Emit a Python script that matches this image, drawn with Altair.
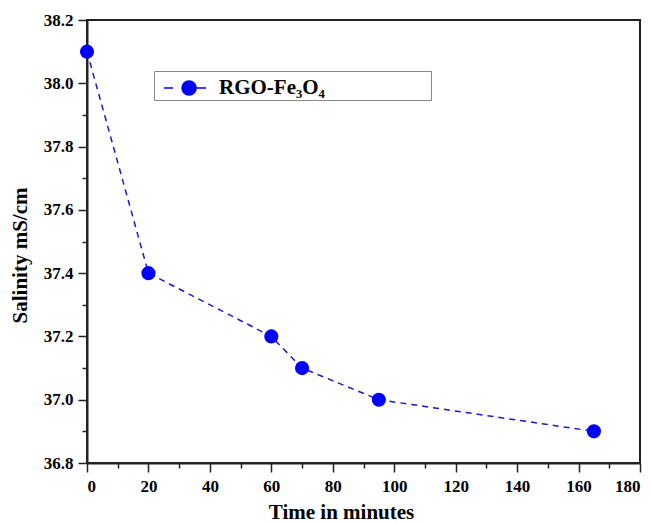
import altair as alt
import pandas as pd

time_min = [0, 20, 60, 70, 95, 165]
salinity = [38.1, 37.4, 37.2, 37.1, 37.0, 36.9]
series = ["RGO-Fe\u2083O\u2084"] * len(time_min)

x_values = list(range(0, 181, 10))
y_values = [round(36.8 + 0.1 * i, 1) for i in range(15)]

df = pd.DataFrame({"time": time_min, "salinity": salinity, "series": series})

FONT = "Liberation Serif"
BLUE = "#0000ff"

x_enc = alt.X(
    "time:Q",
    scale=alt.Scale(domain=[0, 180], nice=False, zero=False),
    axis=alt.Axis(
        title="Time in minutes",
        values=x_values,
        labelExpr="datum.value % 20 === 0 ? datum.label : ''",
        tickSize={"condition": {"test": "datum.value % 20 === 0", "value": 9}, "value": 5},
        titleX=254,
        titleY=55,
        titleBaseline="alphabetic",
    ),
)
y_enc = alt.Y(
    "salinity:Q",
    scale=alt.Scale(domain=[36.8, 38.2], nice=False, zero=False),
    axis=alt.Axis(
        title="Salinity mS/cm",
        values=y_values,
        labelExpr="round(datum.value * 10) % 2 === 0 ? format(datum.value, '.1f') : ''",
        tickSize={"condition": {"test": "round(datum.value * 10) % 2 === 0", "value": 9}, "value": 5},
        titleX=-67,
        titleY=235,
        titleBaseline="middle",
    ),
)

pad = "\u2800" * 7

color_enc = alt.Color(
    "series:N",
    scale=alt.Scale(range=[BLUE]),
    legend=alt.Legend(
        title=None,
        orient="none",
        legendX=67,
        legendY=51,
        symbolType="M-1.4,0H-0.8M-0.2,0A0.47,0.47 0 1,1 0.74,0A0.47,0.47 0 1,1 -0.2,0ZM0.74,0H1.4",
        symbolSize=900,
        symbolFillColor=BLUE,
        symbolStrokeColor=BLUE,
        symbolStrokeWidth=1.5,
        symbolOffset=14,
        labelFont=FONT,
        labelFontSize=21,
        labelFontWeight="bold",
        labelColor="black",
        labelOffset=18,
        labelExpr="datum.label + '" + pad + "'",
        labelLimit=400,
        strokeColor="#888888",
        padding=1,
        fillColor="white",
    ),
)

line = alt.Chart(df).mark_line(
    color="#1a1acc", strokeDash=[6, 5], strokeWidth=1.5
).encode(x=x_enc, y=y_enc)

points = alt.Chart(df).mark_point(
    filled=True, size=200, opacity=1, shape="circle"
).encode(x=x_enc, y=y_enc, color=color_enc)

chart = (
    alt.layer(line, points)
    .properties(
        width=553,
        height=443,
        padding={"left": 87, "top": 20, "right": 12, "bottom": 61},
        autosize=alt.AutoSizeParams(type="none"),
        background="white",
    )
    .configure_view(stroke="#222222", strokeWidth=2)
    .configure_axis(
        grid=False,
        domainColor="#222222",
        domainWidth=2,
        tickColor="#222222",
        tickWidth=1.5,
        labelFont=FONT,
        labelFontSize=17,
        labelFontWeight="bold",
        labelColor="black",
        labelPadding=5,
        titleFont=FONT,
        titleFontSize=21,
        titleFontWeight="bold",
        titleColor="black",
    )
    .configure_axisX(labelPadding=6)
)

chart.save("out.html", embed_options={"renderer": "svg", "actions": False})
